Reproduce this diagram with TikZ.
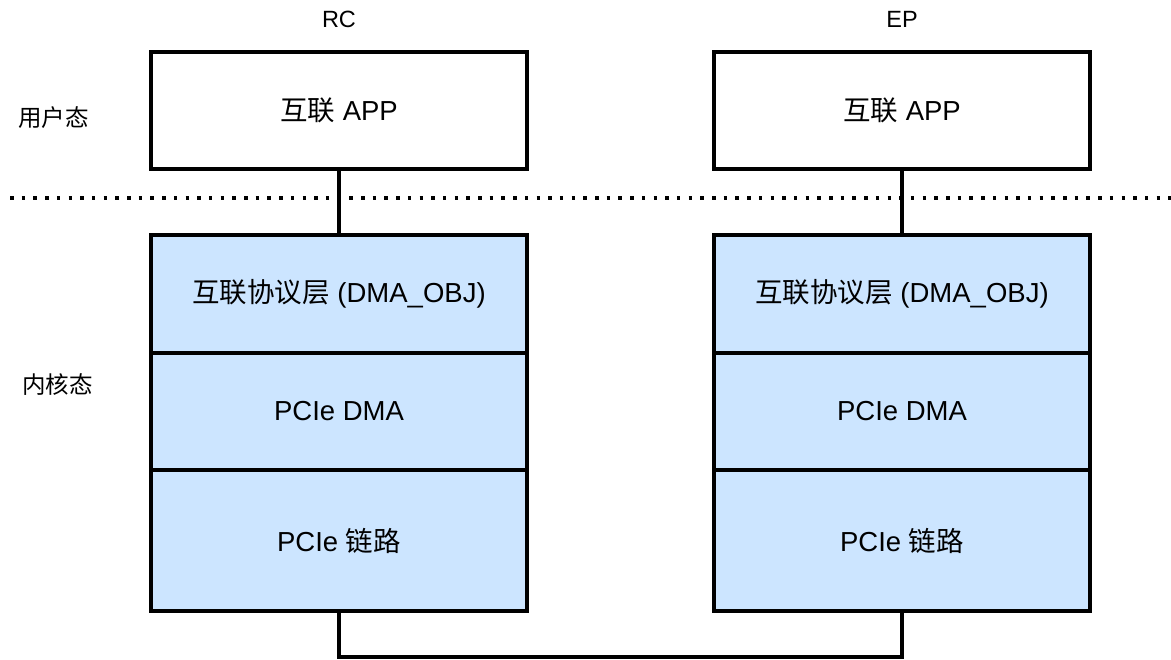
\documentclass[tikz,border=0pt]{standalone}
\usepackage{fontspec}
\setmainfont{Liberation Sans}
\newfontfamily\cjk{Noto Sans CJK SC}
\begin{document}
\begin{tikzpicture}[x=1pt,y=-1pt,
  box/.style={draw=black,line width=3.5pt,minimum width=376pt,inner sep=0pt,font=\fontsize{27.5}{33}\selectfont},
  appbox/.style={box,fill=white,minimum height=117pt},
  layer/.style={box,fill=kblue},
  lbl/.style={font=\fontsize{23.5}{28}\selectfont,inner sep=0pt},
  conn/.style={line width=3.5pt,line join=miter},
  dotline/.style={line width=3.5pt,dash pattern=on 3.5pt off 8.2pt}
]
\definecolor{kblue}{HTML}{CCE5FF}
\useasboundingbox (0,0) rectangle (1171,660);
% labels
\node[lbl] (rc) at (339,19) {RC};
\node[lbl] (ep) at (902,19) {EP};
\node[lbl,anchor=west] (user) at (18,118) {\cjk 用户态};
\node[lbl,anchor=west] (kernel) at (22,385) {\cjk 内核态};
% separator
\coordinate (dl) at (10,198);
\coordinate (dr) at (1171,198);
\draw[dotline] (dl) -- (dr);
% RC
\node[appbox] (rcapp) at (339,110.5) {{\cjk 互联} APP};
\node[layer,minimum height=118pt] (rcproto) at (339,294) {{\cjk 互联协议层} (DMA\_OBJ)};
\node[layer,minimum height=117pt] (rcdma) at (339,411.5) {PCIe DMA};
\node[layer,minimum height=141pt] (rclink) at (339,540.5) {PCIe {\cjk 链路}};
% EP
\node[appbox] (epapp) at (902,110.5) {{\cjk 互联} APP};
\node[layer,minimum height=118pt] (epproto) at (902,294) {{\cjk 互联协议层} (DMA\_OBJ)};
\node[layer,minimum height=117pt] (epdma) at (902,411.5) {PCIe DMA};
\node[layer,minimum height=141pt] (eplink) at (902,540.5) {PCIe {\cjk 链路}};
% connectors
\draw[conn] (rcapp.south) -- (rcproto.north);
\draw[conn] (epapp.south) -- (epproto.north);
\coordinate (bot) at (0,657);
\draw[conn] (rclink.south) -- (rclink.south |- bot) -- (eplink.south |- bot) -- (eplink.south);
\end{tikzpicture}
\end{document}
